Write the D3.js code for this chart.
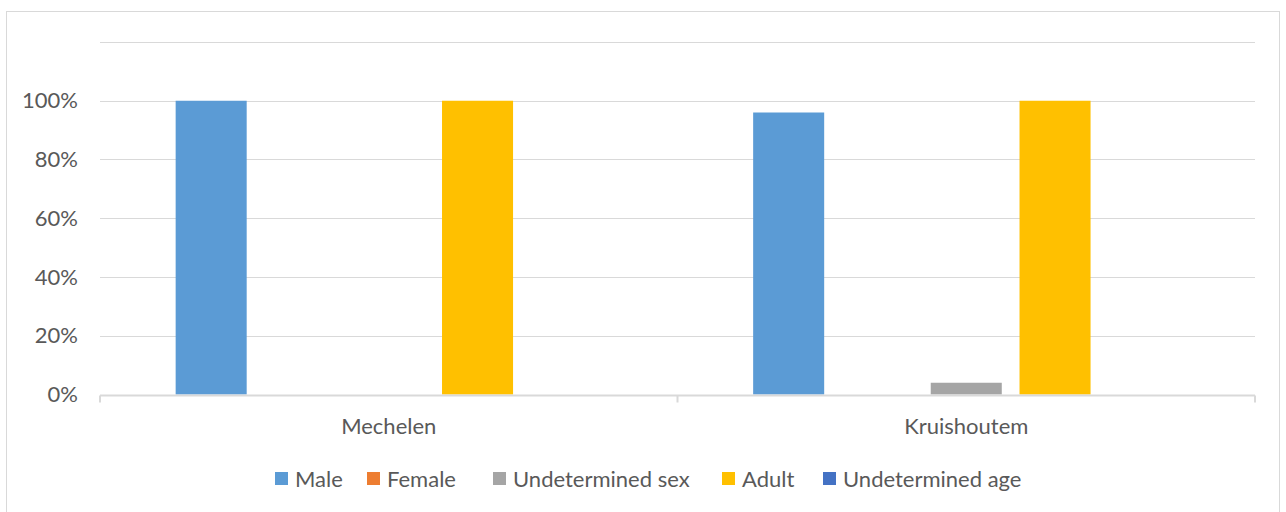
<!DOCTYPE html>
<html>
<head>
<meta charset="utf-8">
<script src="https://cdn.jsdelivr.net/npm/d3@7"></script>
<style>
  html, body { margin: 0; padding: 0; background: #fff; }
  svg { display: block; }
  text { font-family: Lato, "Open Sans", sans-serif; fill: #595959; }
</style>
</head>
<body>
<svg id="chart" width="1286" height="512"></svg>
<script>
// Share of animals per site, by sex and age class
const categories = ["Mechelen", "Kruishoutem"];
const seriesNames = ["Male", "Female", "Undetermined sex", "Adult", "Undetermined age"];
const seriesColors = ["#5b9bd5", "#ed7d31", "#a5a5a5", "#ffc000", "#4472c4"];
const male = [1.00, 0.96];
const female = [0, 0];
const undeterminedSex = [0, 0.04];
const adult = [1.00, 1.00];
const undeterminedAge = [0, 0];
const yTicks = [0, 0.2, 0.4, 0.6, 0.8, 1.0, 1.2];
const yTickLabels = ["0%", "20%", "40%", "60%", "80%", "100%", ""];

const seriesValues = [male, female, undeterminedSex, adult, undeterminedAge];
const rows = [];
categories.forEach((c, ci) => {
  seriesNames.forEach((s, si) => rows.push({ cat: c, series: s, value: seriesValues[si][ci], color: seriesColors[si] }));
});

const svg = d3.select("#chart");
const grid = "#d9d9d9";
const fontSize = "22px";

// outer chart frame
svg.append("rect")
  .attr("x", 6.5).attr("y", 11.5).attr("width", 1273).attr("height", 520)
  .attr("fill", "none").attr("stroke", grid).attr("stroke-width", 1);

const plot = { left: 100, right: 1255, top: 42, bottom: 394.5 };

const x0 = d3.scaleBand().domain(categories).range([plot.left, plot.right]).padding(0);
const x1 = d3.scaleBand().domain(seriesNames)
  .range([x0.bandwidth() * 0.131, x0.bandwidth() * 0.869])
  .paddingInner(0.2).paddingOuter(0);
const y = d3.scaleLinear().domain([0, 1.2]).range([plot.bottom, plot.top]);

// horizontal gridlines
svg.append("g").selectAll("line").data(yTicks.filter(t => t > 0)).join("line")
  .attr("x1", plot.left).attr("x2", plot.right)
  .attr("y1", d => Math.round(y(d)) + 0.5).attr("y2", d => Math.round(y(d)) + 0.5)
  .attr("stroke", grid).attr("stroke-width", 1);

// y tick labels
svg.append("g").selectAll("text").data(yTicks).join("text")
  .attr("x", 78).attr("y", d => y(d))
  .attr("dy", "0.35em").attr("text-anchor", "end")
  .style("font-size", fontSize)
  .text((d, i) => yTickLabels[i]);

// bars
svg.append("g").selectAll("rect").data(rows.filter(r => r.value > 0)).join("rect")
  .attr("x", d => x0(d.cat) + x1(d.series))
  .attr("width", x1.bandwidth())
  .attr("y", d => y(d.value))
  .attr("height", d => y(0) - y(d.value))
  .attr("fill", d => d.color);

// category axis
const xAxis = d3.axisBottom(x0).tickSize(0).tickFormat("");
const axisG = svg.append("g").attr("transform", `translate(0,${Math.round(y(0)) + 0.5})`).call(xAxis);
axisG.select(".domain").attr("stroke", grid).attr("stroke-width", 2).attr("d", `M${plot.left},0H${plot.right}`);
const bounds = [plot.left, ...categories.map(c => x0(c) + x0.bandwidth())];
axisG.selectAll(".sep").data(bounds).join("line").attr("class", "sep")
  .attr("x1", d => d).attr("x2", d => d).attr("y1", 0).attr("y2", 7)
  .attr("stroke", grid).attr("stroke-width", 2);
svg.append("g").selectAll("text").data(categories).join("text")
  .attr("x", d => x0(d) + x0.bandwidth() / 2).attr("y", 426)
  .attr("dy", "0.35em").attr("text-anchor", "middle")
  .style("font-size", fontSize)
  .text(d => d);

// legend
const legendX = [275, 367, 493, 722, 823];
const legend = svg.append("g").selectAll("g").data(seriesNames).join("g")
  .attr("transform", (d, i) => `translate(${legendX[i]},472)`);
legend.append("rect").attr("width", 13).attr("height", 13).attr("fill", (d, i) => seriesColors[i]);
legend.append("text").attr("x", 20).attr("y", 15)
  .style("font-size", fontSize).text(d => d);
</script>
</body>
</html>
